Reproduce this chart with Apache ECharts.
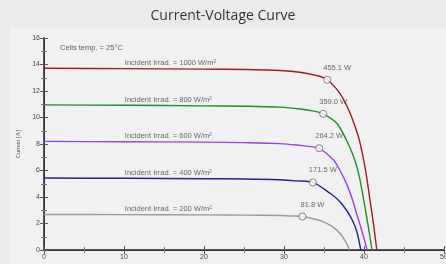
<!DOCTYPE html>
<html>
<head>
<meta charset="utf-8">
<script src="https://cdn.jsdelivr.net/npm/echarts@6/dist/echarts.min.js"></script>
<style>
  html, body { margin: 0; padding: 0; background: #ebebeb; }
  #main { width: 446px; height: 264px; }
</style>
</head>
<body>
<div id="main"></div>
<script>
// I-V curves (volts, amps)
var v1000 = [0, 10, 20, 25, 29.5, 32, 34, 35.4, 37.0, 38.25, 39.3, 39.7, 40.2, 40.75, 41.2, 41.6];
var i1000 = [13.72, 13.69, 13.65, 13.62, 13.55, 13.42, 13.18, 12.85, 11.8, 10.34, 8.55, 7.55, 6.0, 3.77, 1.9, 0];
var v800 = [0, 10, 20, 25, 29.5, 32, 33.7, 34.9, 36.6, 37.8, 38.6, 39.1, 39.5, 39.9, 40.5, 41.0];
var i800 = [10.95, 10.92, 10.88, 10.85, 10.78, 10.64, 10.48, 10.28, 9.56, 8.3, 7.2, 6.3, 5.3, 4.0, 1.9, 0];
var v600 = [0, 10, 20, 25, 29.5, 32, 33.4, 34.4, 36.2, 37.0, 37.8, 38.5, 39.1, 39.8, 40.4];
var i600 = [8.2, 8.17, 8.14, 8.1, 8.03, 7.9, 7.8, 7.68, 6.8, 6.0, 5.03, 3.9, 2.7, 1.3, 0];
var v400 = [0, 10, 20, 25, 29.5, 31.5, 33.6, 35.75, 36.9, 37.8, 38.5, 39.1, 39.6];
var i400 = [5.43, 5.41, 5.38, 5.36, 5.3, 5.22, 5.1, 4.28, 3.7, 3.02, 2.3, 1.4, 0];
var v200 = [0, 10, 20, 25, 29.5, 31, 32.3, 34.9, 36.6, 37.6, 38.2];
var i200 = [2.68, 2.67, 2.65, 2.63, 2.6, 2.57, 2.53, 2.14, 1.5, 0.75, 0];

var irrad = [1000, 800, 600, 400, 200];
var mppV = [35.4, 34.9, 34.4, 33.6, 32.3];
var mppI = [12.85, 10.28, 7.68, 5.1, 2.53];
var mppP = ['455.1 W', '359.0 W', '264.2 W', '171.5 W', '81.8 W'];
var labelV = [10.1, 10.1, 10.1, 10.1, 10.1];
var labelI = [14.1, 11.3, 8.58, 5.83, 3.09];
var colors = ['#9b1c1f', '#1e8f22', '#9b3cf5', '#23238f', '#9a9a9a'];

var xTicks = [0, 10, 20, 30, 40, 50];
var yTicks = [0, 2, 4, 6, 8, 10, 12, 14, 16];

var curves = [[v1000, i1000], [v800, i800], [v600, i600], [v400, i400], [v200, i200]];

var chart = echarts.init(document.getElementById('main'));

function zip(a, b) {
  return a.map(function (x, k) { return [x, b[k]]; });
}

var series = [];
curves.forEach(function (c, k) {
  series.push({
    type: 'line',
    data: zip(c[0], c[1]),
    smooth: 0.3,
    symbol: 'none',
    lineStyle: { color: colors[k], width: 1.4 },
    z: 3
  });
});

// maximum power points
series.push({
  type: 'scatter',
  data: mppV.map(function (v, k) { return [v, mppI[k], mppP[k]]; }),
  symbol: 'circle',
  symbolSize: 7,
  itemStyle: { color: '#fff', borderColor: '#666', borderWidth: 1 },
  label: {
    show: true,
    position: 'top',
    offset: [10, 1],
    formatter: function (p) { return p.value[2]; },
    fontSize: 7.5,
    fontFamily: 'Liberation Sans',
    color: '#444'
  },
  z: 5
});

// irradiance labels
series.push({
  type: 'scatter',
  data: labelV.map(function (v, k) { return [v, labelI[k], 'Incident Irrad. = ' + irrad[k] + ' W/m²']; }),
  symbolSize: 0,
  label: {
    show: true,
    position: 'right',
    distance: 0,
    formatter: function (p) { return p.value[2]; },
    fontSize: 7.5,
    fontFamily: 'Liberation Sans',
    color: '#444'
  },
  z: 4
});

// temperature label
series.push({
  type: 'scatter',
  data: [[2, 15.25, 'Cells temp. = 25°C']],
  symbolSize: 0,
  label: {
    show: true,
    position: 'right',
    distance: 0,
    formatter: function (p) { return p.value[2]; },
    fontSize: 7.5,
    fontFamily: 'Liberation Sans',
    color: '#333'
  }
});

var tickLabel = {
  fontSize: 7,
  fontFamily: 'Liberation Sans',
  color: '#444',
  margin: 4
};

var option = {
  backgroundColor: '#ebebeb',
  animation: false,
  title: {
    text: 'Current-Voltage Curve',
    left: 'center',
    top: 4,
    textStyle: {
      fontSize: 14,
      fontWeight: 'normal',
      fontFamily: 'Open Sans',
      color: '#333'
    }
  },
  graphic: [{
    type: 'rect',
    shape: { x: 10, y: 28, width: 436, height: 236 },
    style: { fill: '#f1f1f1' },
    z: -10
  }],
  grid: { left: 44, right: 2, top: 38, bottom: 14, show: false, containLabel: false, outerBoundsMode: 'none' },
  xAxis: [{
    type: 'value',
    min: 0, max: 50, interval: 10,
    name: 'Voltage [V]',
    nameLocation: 'middle',
    nameGap: 13,
    nameTextStyle: { fontSize: 7, fontFamily: 'Liberation Sans', color: '#444' },
    axisLine: { lineStyle: { color: '#222', width: 1.5 } },
    axisTick: { inside: true, length: 4, lineStyle: { color: '#555' } },
    minorTick: { show: true, splitNumber: 2, length: 3, lineStyle: { color: '#777' } },
    axisLabel: Object.assign({}, tickLabel, {
      formatter: function (v) { return xTicks.indexOf(v) >= 0 ? String(v) : ''; }
    }),
    splitLine: { show: false }
  }, {
    type: 'value',
    position: 'top',
    min: 0, max: 50, interval: 10,
    axisLine: { lineStyle: { color: '#333', width: 1 } },
    axisTick: { inside: true, length: 4, lineStyle: { color: '#555' } },
    minorTick: { show: true, splitNumber: 2, length: 3, lineStyle: { color: '#777' } },
    axisLabel: { show: false },
    splitLine: { show: false }
  }],
  yAxis: [{
    type: 'value',
    min: 0, max: 16, interval: 2,
    name: 'Current [A]',
    nameLocation: 'middle',
    nameGap: 19,
    nameTextStyle: { fontSize: 6, fontFamily: 'Liberation Serif', color: '#555' },
    axisLine: { lineStyle: { color: '#222', width: 1.5 } },
    axisTick: { inside: true, length: 4, lineStyle: { color: '#555' } },
    minorTick: { show: true, splitNumber: 2, length: 3, lineStyle: { color: '#777' } },
    axisLabel: Object.assign({}, tickLabel, {
      formatter: function (v) { return yTicks.indexOf(v) >= 0 ? String(v) : ''; }
    }),
    splitLine: { show: false }
  }, {
    type: 'value',
    position: 'right',
    min: 0, max: 16, interval: 2,
    axisLine: { show: true, lineStyle: { color: '#333', width: 1 } },
    axisTick: { inside: true, length: 4, lineStyle: { color: '#555' } },
    minorTick: { show: true, splitNumber: 2, length: 3, lineStyle: { color: '#777' } },
    axisLabel: { show: false },
    splitLine: { show: false }
  }],
  series: series
};

chart.setOption(option);
</script>
</body>
</html>
